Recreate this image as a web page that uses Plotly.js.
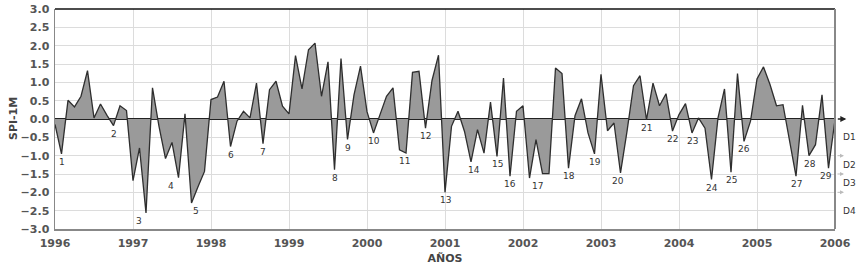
<!DOCTYPE html>
<html>
<head>
<meta charset="utf-8">
<script src="https://cdn.plot.ly/plotly-3.0.1.min.js"></script>
<style>html,body{margin:0;padding:0;background:#fff;}#chart{width:862px;height:268px;}</style>
</head>
<body>
<div id="chart"></div>
<script>
// Monthly SPI-1M values, Jan 1996 onward (one per month)
const startYear = 1996;
const spiValues = [
  -0.15, -0.95, 0.51, 0.33, 0.62, 1.32, 0.03, 0.41, 0.10, -0.18, 0.36, 0.23,
  -1.68, -0.79, -2.56, 0.85, -0.20, -1.08, -0.64, -1.60, 0.14, -2.29, -1.85, -1.43,
  0.53, 0.60, 1.03, -0.75, -0.06, 0.21, 0.03, 0.98, -0.67, 0.80, 1.03, 0.35,
  0.14, 1.73, 0.82, 1.89, 2.07, 0.62, 1.56, -1.38, 1.65, -0.56, 0.66, 1.44,
  0.20, -0.38, 0.12, 0.62, 0.85, -0.84, -0.93, 1.27, 1.30, -0.25, 1.05, 1.74,
  -2.00, -0.20, 0.21, -0.34, -1.17, -0.29, -0.93, 0.46, -1.02, 1.12, -1.56, 0.21,
  0.36, -1.61, -0.56, -1.49, -1.49, 1.39, 1.24, -1.34, 0.09, 0.55, -0.38, -0.95,
  1.22, -0.32, -0.11, -1.47, -0.34, 0.91, 1.18, -0.02, 0.98, 0.36, 0.69, -0.33,
  0.12, 0.42, -0.38, 0.03, -0.25, -1.65, 0.03, 0.82, -1.45, 1.24, -0.61, -0.06,
  1.09, 1.42, 0.94, 0.36, 0.39, -0.56, -1.56, 0.37, -1.00, -0.70, 0.66, -1.34,
  -0.02
];
// Month index (from Jan 1996) of each numbered dry event
const eventMonths = [1, 9, 14, 19, 21, 27, 32, 43, 45, 49, 54, 57, 60, 64, 68, 70, 73, 79, 83, 87, 91, 95, 98, 101, 104, 106, 114, 116, 119];
const yearTicks = [1996, 1997, 1998, 1999, 2000, 2001, 2002, 2003, 2004, 2005, 2006];
const droughtLabels = ['D1', 'D2', 'D3', 'D4'];
const droughtLabelLevels = [-0.5, -1.25, -1.75, -2.5];
const droughtLevels = [-1.0, -1.5, -2.0];

// label nudges (layout only, pixels)
const labelShift = {3: -7, 4: -8, 5: 4, 11: -2, 14: 3, 17: 8, 20: -3, 28: 1, 29: -3};

const xs = spiValues.map((v, i) => startYear + i / 12);

const trace = {
  x: xs, y: spiValues, type: 'scatter', mode: 'lines',
  fill: 'tozeroy', fillcolor: '#9a9a9a',
  line: {color: '#2e2e2e', width: 1.3},
  hoverinfo: 'skip'
};

const tickFont = {family: 'DejaVu Sans', size: 11, color: '#555', weight: 700};
const titleFont = {family: 'DejaVu Sans', size: 11, color: '#444', weight: 700};

const annotations = eventMonths.map((m, k) => ({
  x: xs[m], y: spiValues[m], xref: 'x', yref: 'y',
  text: String(k + 1), showarrow: false,
  yanchor: 'middle', yshift: -8, xshift: labelShift[k + 1] || 0,
  font: {family: 'DejaVu Sans', size: 9, color: '#333'}
}));

droughtLabels.forEach((t, i) => annotations.push({
  x: 1.008, xref: 'paper', y: droughtLabelLevels[i], yref: 'y',
  text: t, showarrow: false, xanchor: 'left', yanchor: 'middle',
  font: {family: 'DejaVu Sans', size: 9, color: '#333'}
}));

// y-axis title
annotations.push({
  x: -0.0538, xref: 'paper', y: 0.5, yref: 'paper', text: 'SPI-1M',
  textangle: -90, showarrow: false, xanchor: 'center', yanchor: 'middle', font: titleFont
});

// zero-line arrow
annotations.push({
  x: 1.0145, xref: 'paper', y: 0, yref: 'y', ax: -10, ay: 0,
  text: '', showarrow: true, arrowhead: 2, arrowsize: 0.8, arrowwidth: 1.5, arrowcolor: '#222'
});
droughtLevels.forEach(v => annotations.push({
  x: 1.0115, xref: 'paper', y: v, yref: 'y', ax: -8, ay: 0,
  text: '', showarrow: true, arrowhead: 2, arrowsize: 0.8, arrowwidth: 1, arrowcolor: '#bbb'
}));

const layout = {
  width: 862, height: 268,
  margin: {l: 55, r: 27, t: 9, b: 39},
  paper_bgcolor: '#fff', plot_bgcolor: '#fff',
  showlegend: false,
  xaxis: {
    range: [1996, 2006], tickvals: yearTicks, ticktext: yearTicks.map(String),
    showgrid: true, gridcolor: '#dcdcdc', gridwidth: 1,
    showline: true, linecolor: '#888', linewidth: 1.5,
    ticks: '', tickfont: tickFont, ticklabelstandoff: 3, zeroline: false,
    title: {text: 'AÑOS', font: titleFont, standoff: 5}
  },
  yaxis: {
    range: [-3, 3], dtick: 0.5, tick0: 0, tickformat: '.1f',
    showgrid: true, gridcolor: '#dcdcdc', gridwidth: 1,
    showline: true, linecolor: '#888', linewidth: 1.5,
    ticks: '', tickfont: tickFont, ticklabelstandoff: 2,
    zeroline: true, zerolinecolor: '#222', zerolinewidth: 1.5
  },
  shapes: [
    {type: 'line', xref: 'paper', yref: 'paper', x0: 0, x1: 1, y0: 1, y1: 1, line: {color: '#111', width: 1.5}},
    {type: 'line', xref: 'paper', yref: 'paper', x0: 1, x1: 1, y0: 0, y1: 1, line: {color: '#888', width: 2}}
  ],
  annotations: annotations
};

Plotly.newPlot('chart', [trace], layout, {displayModeBar: false, staticPlot: true});
</script>
</body>
</html>
